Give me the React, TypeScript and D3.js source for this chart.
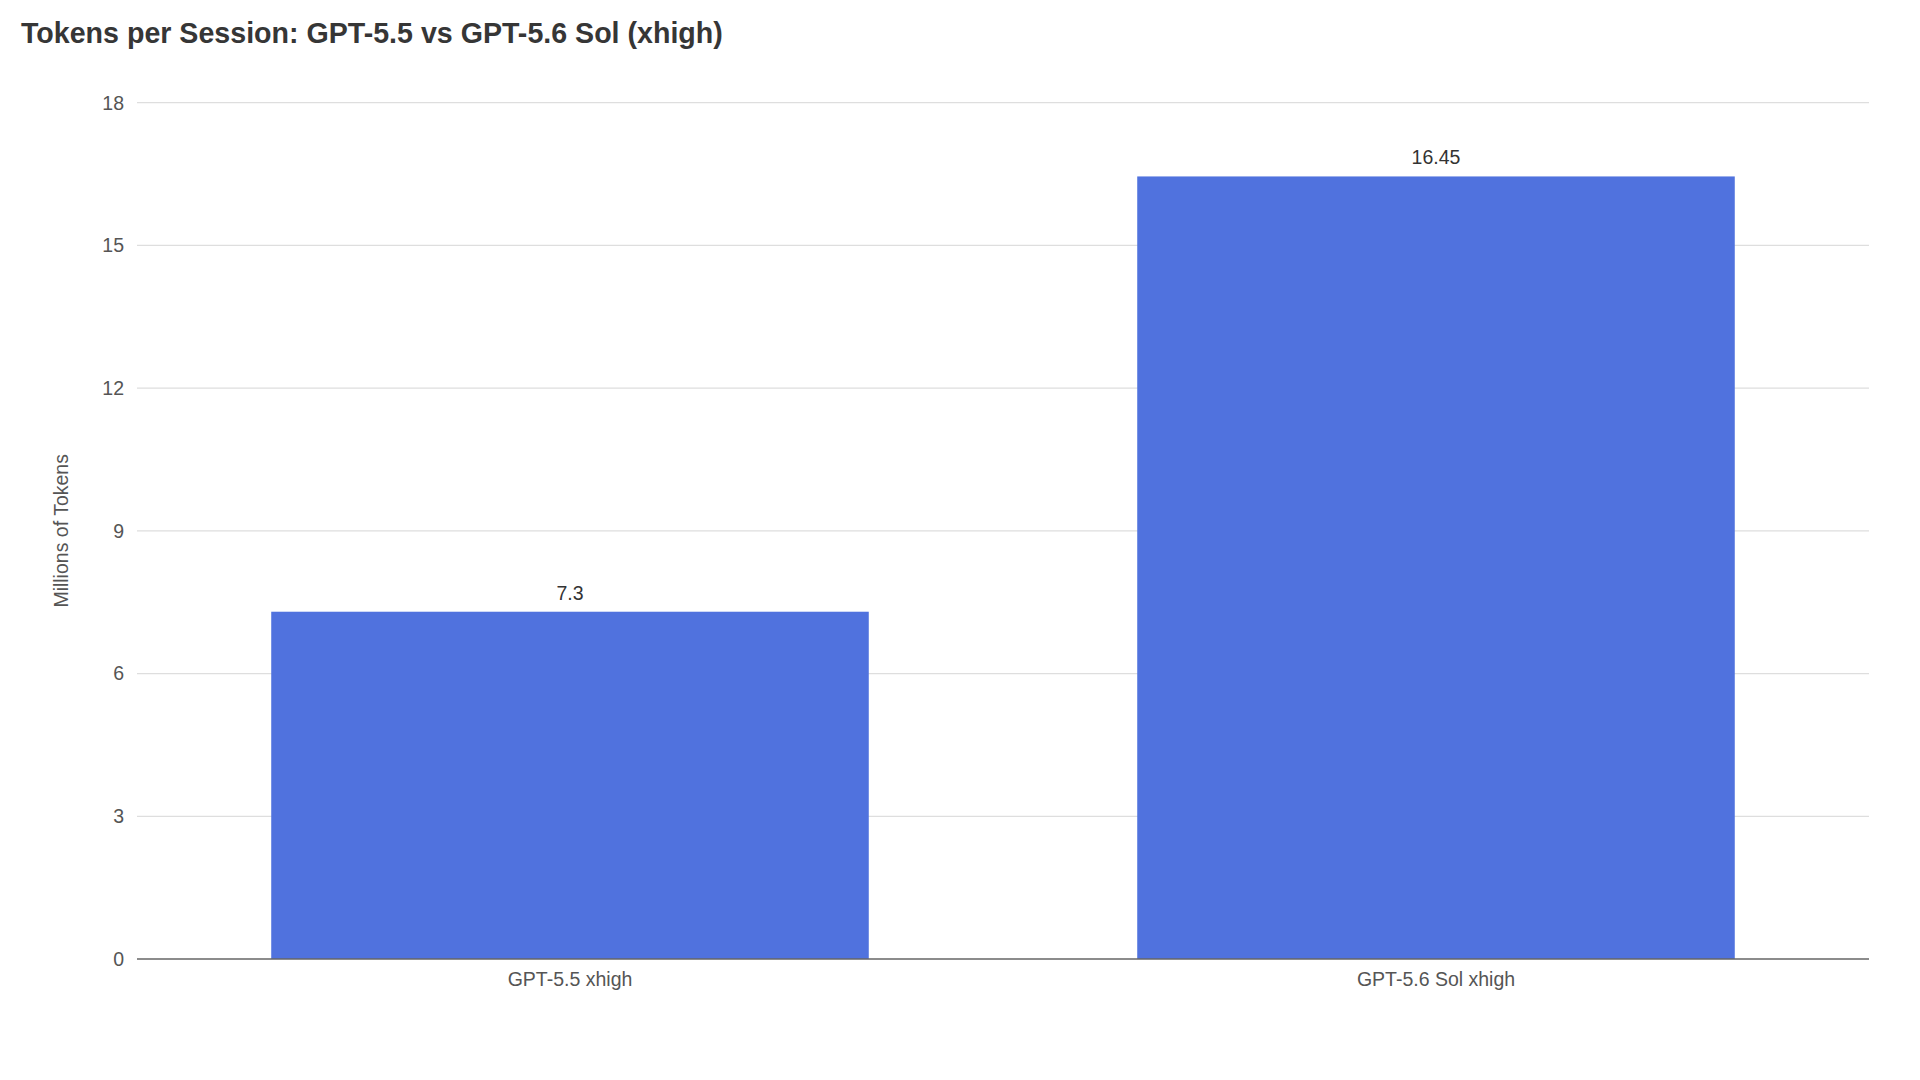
import React from "react";
import * as d3 from "d3";

const categories = ["GPT-5.5 xhigh", "GPT-5.6 Sol xhigh"];
const values = [7.3, 16.45];
const valueLabels = ["7.3", "16.45"];
const yTicks = [0, 3, 6, 9, 12, 15, 18];

const W = 1920;
const H = 1080;
const margin = { left: 137, right: 51, top: 102.7, bottom: 121 };

export default function App() {
  const x = d3
    .scaleBand<string>()
    .domain(categories)
    .range([margin.left, W - margin.right])
    .paddingInner(0.31)
    .paddingOuter(0.155);
  const y = d3
    .scaleLinear()
    .domain([0, 18])
    .range([H - margin.bottom, margin.top]);

  const font = "'Liberation Sans', Arial, Helvetica, sans-serif";
  const x0 = margin.left;
  const x1 = W - margin.right;
  const fs = 19.5;

  return (
    <svg
      width={W}
      height={H}
      style={{ position: "fixed", left: 0, top: 0, background: "#fff" }}
      fontFamily={font}
    >
      <text x={21} y={43} fontSize={28.6} fontWeight="bold" fill="#363636">
        Tokens per Session: GPT-5.5 vs GPT-5.6 Sol (xhigh)
      </text>

      {yTicks.map((t) => (
        <g key={t}>
          {t !== 0 && (
            <line x1={x0} x2={x1} y1={y(t)} y2={y(t)} stroke="#dedede" strokeWidth={1.2} />
          )}
          <text
            x={124}
            y={y(t)}
            dy="0.35em"
            textAnchor="end"
            fontSize={fs}
            fill="#555"
          >
            {t}
          </text>
        </g>
      ))}

      <text
        transform={`translate(68,${(y(0) + y(18)) / 2}) rotate(-90)`}
        textAnchor="middle"
        fontSize={fs}
        fill="#555"
      >
        Millions of Tokens
      </text>

      {categories.map((c, i) => (
        <g key={c}>
          <rect
            x={x(c)!}
            y={y(values[i])}
            width={x.bandwidth()}
            height={y(0) - y(values[i])}
            fill="#5072DE"
          />
          <text
            x={x(c)! + x.bandwidth() / 2}
            y={y(values[i]) - 12}
            textAnchor="middle"
            fontSize={fs}
            fill="#333"
          >
            {valueLabels[i]}
          </text>
          <text
            x={x(c)! + x.bandwidth() / 2}
            y={986}
            textAnchor="middle"
            fontSize={fs}
            fill="#555"
          >
            {c}
          </text>
        </g>
      ))}

      <line x1={x0} x2={x1} y1={y(0)} y2={y(0)} stroke="#666" strokeWidth={1.5} />
    </svg>
  );
}
